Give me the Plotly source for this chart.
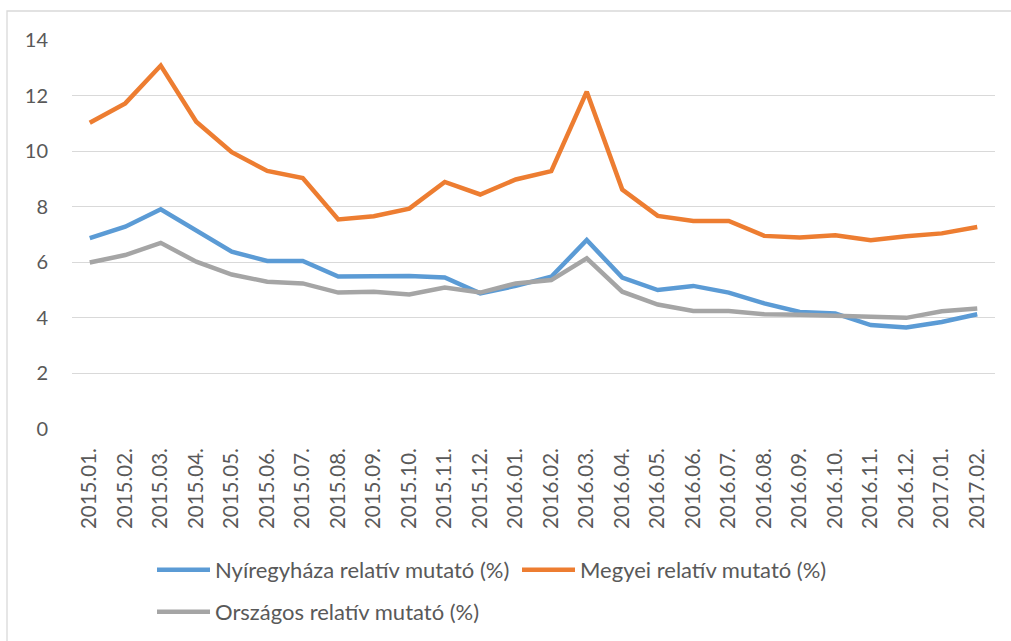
import plotly.graph_objects as go

categories = ["2015.01.", "2015.02.", "2015.03.", "2015.04.", "2015.05.", "2015.06.",
              "2015.07.", "2015.08.", "2015.09.", "2015.10.", "2015.11.", "2015.12.",
              "2016.01.", "2016.02.", "2016.03.", "2016.04.", "2016.05.", "2016.06.",
              "2016.07.", "2016.08.", "2016.09.", "2016.10.", "2016.11.", "2016.12.",
              "2017.01.", "2017.02."]

nyiregyhaza = [6.87, 7.28, 7.91, 7.13, 6.38, 6.05, 6.05, 5.49, 5.49, 5.51, 5.45, 4.88,
               5.15, 5.48, 6.80, 5.45, 5.00, 5.15, 4.91, 4.52, 4.21, 4.16, 3.74, 3.65,
               3.85, 4.13]
megyei = [11.02, 11.72, 13.08, 11.06, 9.96, 9.29, 9.03, 7.54, 7.66, 7.93, 8.89, 8.44,
          8.98, 9.28, 12.14, 8.62, 7.67, 7.49, 7.49, 6.95, 6.89, 6.97, 6.79, 6.94,
          7.04, 7.27]
orszagos = [5.99, 6.26, 6.70, 6.02, 5.56, 5.30, 5.24, 4.91, 4.94, 4.84, 5.09, 4.91,
            5.24, 5.36, 6.14, 4.94, 4.48, 4.25, 4.25, 4.13, 4.11, 4.07, 4.00, 4.00,
            4.24, 4.34]

names = ["Nyíregyháza relatív mutató (%)", "Megyei relatív mutató (%)",
         "Országos relatív mutató (%)"]
colors = ["#5B9BD5", "#ED7D31", "#A5A5A5"]
y_ticks = [0, 2, 4, 6, 8, 10, 12, 14]

FONT = "Lato"
TXT = "#595959"
W, H = 1011, 641
L, R, T, B = 72, 16, 40, 212

fig = go.Figure()
for vals, name, col, lg in zip([nyiregyhaza, megyei, orszagos], names, colors,
                               ["legend", "legend2", "legend3"]):
    fig.add_trace(go.Scatter(x=categories, y=vals, name=name, mode="lines",
                             line=dict(color=col, width=4.5), legend=lg,
                             showlegend=True))

pw = W - L - R
ph = H - T - B

def cx(px):
    return px / W

def cy(py):
    return 1 - py / H

leg_common = dict(xref="container", yref="container", xanchor="left", yanchor="middle",
                  font=dict(family=FONT, size=22, color=TXT), bgcolor="rgba(0,0,0,0)",
                  itemwidth=53, orientation="h", visible=True)

fig.update_layout(
    width=W, height=H, autosize=False, showlegend=True,
    margin=dict(l=L, r=R, t=T, b=B, pad=0),
    paper_bgcolor="white", plot_bgcolor="white",
    font=dict(family=FONT, size=20, color=TXT),
    xaxis=dict(type="category", range=[-0.5, len(categories) - 0.5], showgrid=False,
               zeroline=False, showline=False, ticks="", tickangle=-90,
               tickfont=dict(family=FONT, size=20.5, color=TXT), ticklabelstandoff=14),
    yaxis=dict(range=[0, 14], tickvals=y_ticks, showgrid=True, gridcolor="#D9D9D9",
               gridwidth=1.3, zeroline=False, showline=False, ticks="",
               tickfont=dict(family=FONT, size=20, color=TXT), ticklabelstandoff=23),
    legend=dict(x=cx(152), y=cy(570), **leg_common),
    legend2=dict(x=cx(517), y=cy(570), **leg_common),
    legend3=dict(x=cx(152), y=cy(612), **leg_common),
    shapes=[dict(type="rect", xref="paper", yref="paper",
                 x0=(7 - L) / pw, x1=(W + 10 - L) / pw,
                 y0=-(H + 10 - T - ph) / ph, y1=(ph + T - 11) / ph,
                 line=dict(color="#D9D9D9", width=1.3), fillcolor="rgba(0,0,0,0)",
                 layer="below")],
)

fig.write_html("out.html", config={"displayModeBar": False},
               post_script="document.body.style.margin='0px';document.body.style.padding='0px';")
